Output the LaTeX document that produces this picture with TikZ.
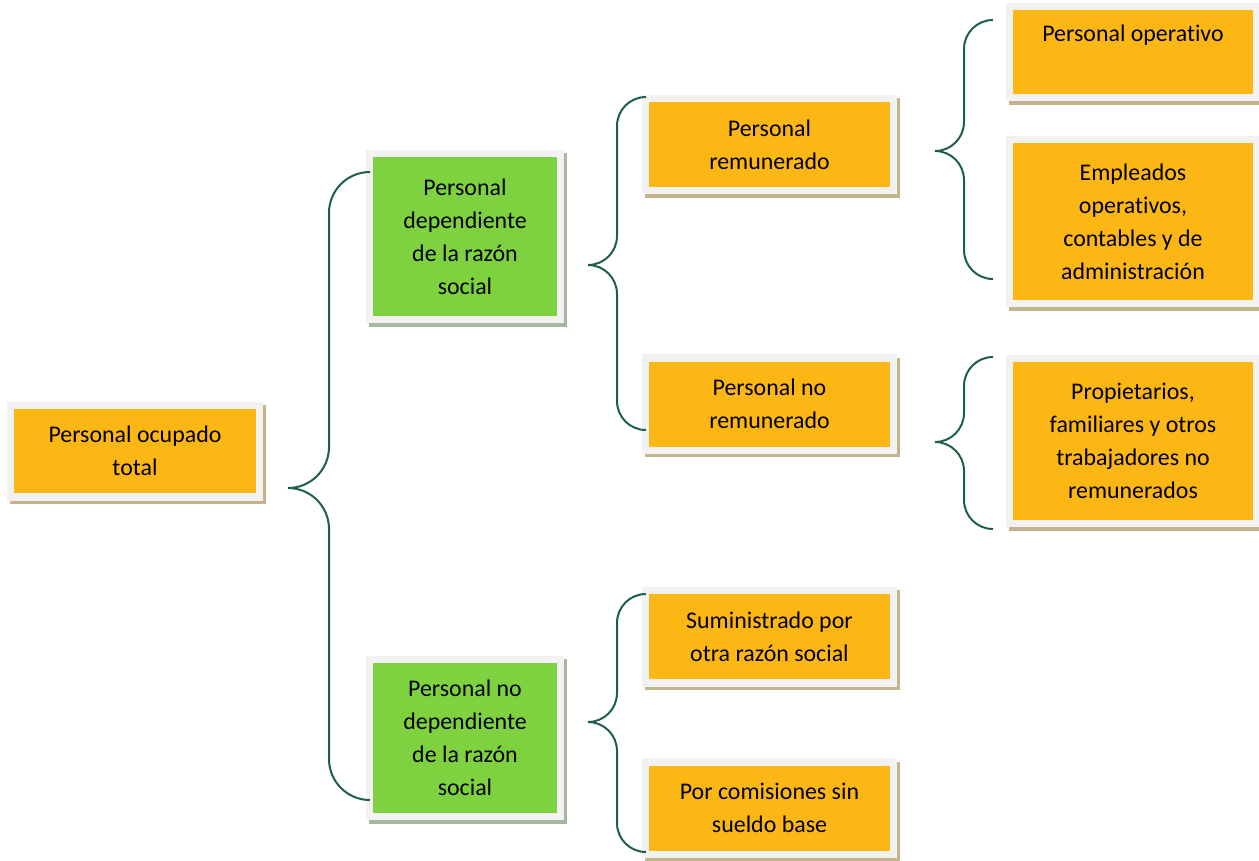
\documentclass[tikz,border=0pt]{standalone}
\usepackage{fontspec}
\setmainfont{Carlito}[Ligatures=NoCommon]
\usetikzlibrary{shadows,calc}
\definecolor{boxorange}{HTML}{FDB714}
\definecolor{boxgreen}{HTML}{7ED23F}
\definecolor{framegray}{HTML}{F2F2F2}
\definecolor{shadowtan}{HTML}{C4B48C}
\definecolor{shadowgreen}{HTML}{A8B89C}
\definecolor{bracecol}{HTML}{1E5E50}
\tikzstyle{box} = [draw=framegray, line width=0.15cm, fill=boxorange, align=center, inner sep=0pt,
  font=\fontsize{13.6}{18.8}\selectfont,
  drop shadow={shadow xshift=0.06cm, shadow yshift=-0.07cm, fill=shadowtan, draw=shadowtan, line width=0.15cm, opacity=1}]
\tikzstyle{greenbox} = [box, fill=boxgreen,
  drop shadow={shadow xshift=0.06cm, shadow yshift=-0.07cm, fill=shadowgreen, draw=shadowgreen, line width=0.15cm, opacity=1}]
\tikzstyle{brace} = [draw=bracecol, line width=0.04cm]
% curly brace: top end, tip, bottom end
\newcommand{\curlybrace}[3]{%
  \draw[brace] let \p1=(#1), \p2=(#2), \p3=(#3), \n1={(\x1-\x2)/2} in
    (\p1) to[out=180,in=90] (\x2+\n1,\y1-\n1) -- (\x2+\n1,\y2+\n1)
    to[out=270,in=0] (\p2) to[out=0,in=90] (\x2+\n1,\y2-\n1)
    -- (\x2+\n1,\y3+\n1) to[out=270,in=180] (\p3);}

\begin{document}
\begin{tikzpicture}[x=0.02cm, y=-0.02cm]
        \useasboundingbox (0,0) rectangle (1259,860);

        \node[box, minimum width=4.99cm, minimum height=1.83cm] at (135,451) (total) {Personal ocupado\\total};
        \node[greenbox, minimum width=3.83cm, minimum height=3.33cm] at (465,236.5) (dep) {Personal\\dependiente\\de la razón\\social};
        \node[greenbox, minimum width=3.83cm, minimum height=3.15cm] at (465,738) (nodep) {Personal no\\dependiente\\de la razón\\social};
        \node[box, minimum width=4.97cm, minimum height=1.85cm] at (769.5,144.5) (rem) {Personal\\remunerado};
        \node[box, minimum width=4.97cm, minimum height=1.85cm] at (769.5,404) (norem) {Personal no\\remunerado};
        \node[box, minimum width=4.97cm, minimum height=1.85cm] at (769.5,636.5) (sum) {Suministrado por\\otra razón social};
        \node[box, minimum width=4.97cm, minimum height=1.85cm] at (769.5,808) (com) {Por comisiones sin\\sueldo base};
        \node[box, minimum width=4.95cm, minimum height=1.83cm, text height=9pt, text depth=21.4pt] at (1133,52) (oper) {Personal operativo};
        \node[box, minimum width=4.95cm, minimum height=3.29cm] at (1133,221.5) (empl) {Empleados\\operativos,\\contables y de\\administración};
        \node[box, minimum width=4.95cm, minimum height=3.31cm] at (1133,441) (prop) {Propietarios,\\familiares y otros\\trabajadores no\\remunerados};

        \coordinate (b1top) at (370,172);
        \coordinate (b1tip) at (288,488);
        \coordinate (b1bot) at (370,800);
        \coordinate (b2top) at (646,97);
        \coordinate (b2tip) at (588,265);
        \coordinate (b2bot) at (646,430);
        \coordinate (b3top) at (646,594);
        \coordinate (b3tip) at (588,722);
        \coordinate (b3bot) at (646,852);
        \coordinate (b4top) at (993,20);
        \coordinate (b4tip) at (935,151);
        \coordinate (b4bot) at (993,279);
        \coordinate (b5top) at (993,357);
        \coordinate (b5tip) at (935,442);
        \coordinate (b5bot) at (993,529);

        \curlybrace{b1top}{b1tip}{b1bot}
        \curlybrace{b2top}{b2tip}{b2bot}
        \curlybrace{b3top}{b3tip}{b3bot}
        \curlybrace{b4top}{b4tip}{b4bot}
        \curlybrace{b5top}{b5tip}{b5bot}

      \end{tikzpicture}
\end{document}
